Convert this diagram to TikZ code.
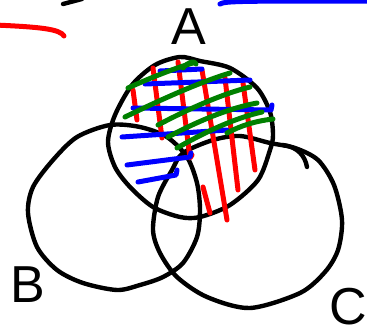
\documentclass[tikz,border=0pt]{standalone}
\usepackage{fontspec}
\setmainfont{Liberation Sans}
\usepackage{tikz}
\usetikzlibrary{positioning}

\tikzset{
  pen/.style={line width=4.4pt, line cap=round, line join=round},
  redpen/.style={pen, red, line width=5pt},
  bluepen/.style={pen, blue, line width=5pt},
  greenpen/.style={pen, green!50!black, line width=5pt},
  letter/.style={font=\fontsize{52}{52}\selectfont, inner sep=0pt}
}

\begin{document}
\begin{tikzpicture}[x=1pt,y=-1pt]
        \useasboundingbox (0,0) rectangle (367,327);
        \clip (0,0) rectangle (367,327);

        \node (A)[letter, anchor=north] at (189,9) {A};
        \node (B)[letter, anchor=north west] at (10,267) {B};
        \node (C)[letter, anchor=north west] at (329,288) {C};

        % scraps at the top
        \draw[pen] (63,4) -- (82,-1);
        \draw[redpen] (-5,25) .. controls (40,27) and (60,29) .. (64,36);
        \draw[bluepen] (220,4) .. controls (225,1) and (240,1) .. (372,1);

        % the three sets
        \draw[pen] plot[smooth cycle] coordinates {(180,57) (200,61) (230,68) (257,88) (270,112) (273,135) (270,150) (258,180) (230,205) (200,217) (180,217) (153,207) (130,187) (115,167) (108,142) (115,115) (132,85) (155,65)};
        \draw[pen] plot[smooth cycle] coordinates {(110,125) (140,127) (167,137) (187,157) (197,183) (200,210) (197,237) (183,263) (163,277) (140,285) (117,290) (83,283) (57,270) (37,247) (28,213) (33,187) (53,160) (77,137)};
        \draw[pen] plot[smooth cycle] coordinates {(183,153) (213,140) (240,136) (270,143) (295,148) (318,160) (334,185) (342,220) (338,250) (325,272) (300,293) (250,308) (207,297) (177,277) (160,253) (153,230) (158,197) (172,170)};
        \draw[pen] (283,145) .. controls (298,147) and (305,156) .. (307,167);

        % red hatching
        \draw[redpen] (133,90) -- (137,120);
        \draw[redpen] (153,68) -- (162,138);
        \draw[redpen] (178,62) -- (190,158) -- (192,155);
        \draw[redpen] (202,70) -- (227,220);
        \draw[redpen] (225,78) -- (238,190);
        \draw[redpen] (243,83) -- (255,170);
        \draw[redpen] (203,187) -- (210,213);

        % blue hatching
        \draw[bluepen] (160,71) -- (202,69);
        \draw[bluepen] (145,84) -- (250,80);
        \draw[bluepen] (133,108) -- (271,110) -- (272,105);
        \draw[bluepen] (122,137) -- (227,130);
        \draw[bluepen] (127,165) -- (190,157) -- (191,153);
        \draw[bluepen] (138,182) -- (176,175) -- (177,170);

        % green hatching
        \draw[greenpen] (128,88) .. controls (150,78) and (175,68) .. (193,63);
        \draw[greenpen] (183,68) .. controls (188,62) and (195,60) .. (196,64);
        \draw[greenpen] (125,117) .. controls (160,100) and (200,82) .. (230,73);
        \draw[greenpen] (158,125) .. controls (190,108) and (225,93) .. (250,87);
        \draw[greenpen] (168,137) .. controls (200,120) and (230,108) .. (257,103);
        \draw[greenpen] (177,148) .. controls (205,132) and (235,118) .. (262,112);
        \draw[greenpen] (227,133) .. controls (240,126) and (255,121) .. (273,119);

    \end{tikzpicture}
\end{document}
